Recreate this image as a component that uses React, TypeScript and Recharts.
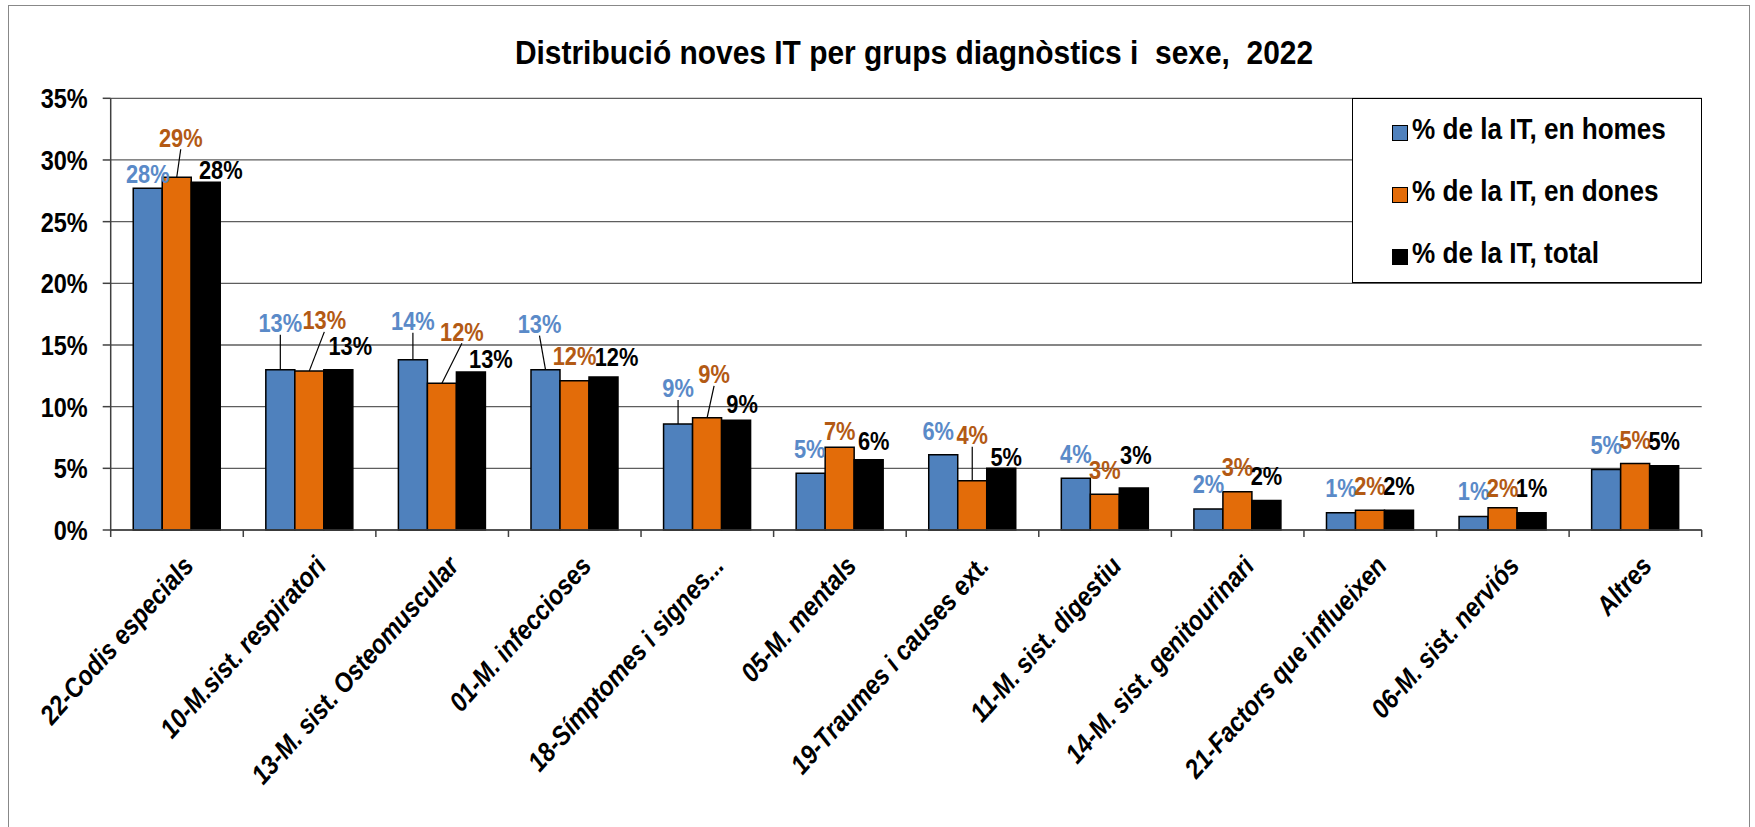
import { Bar, BarChart, CartesianGrid, LabelList, Legend, XAxis, YAxis } from "recharts";

const categories = [
  "22-Codis especials",
  "10-M.sist. respiratori",
  "13-M. sist. Osteomuscular",
  "01-M. infeccioses",
  "18-Símptomes i signes...",
  "05-M. mentals",
  "19-Traumes i causes ext.",
  "11-M. sist. digestiu",
  "14-M. sist. genitourinari",
  "21-Factors que influeixen",
  "06-M. sist. nerviós",
  "Altres",
];
const homes = [27.7, 13.0, 13.8, 13.0, 8.6, 4.6, 6.1, 4.2, 1.7, 1.4, 1.1, 4.9];
const dones = [28.6, 12.9, 11.9, 12.1, 9.1, 6.7, 4.0, 2.9, 3.1, 1.6, 1.8, 5.4];
const total = [28.2, 13.0, 12.8, 12.4, 8.9, 5.7, 5.0, 3.4, 2.4, 1.6, 1.4, 5.2];
const yTicks = [0, 5, 10, 15, 20, 25, 30, 35];

const seriesNames = ["% de la IT, en homes", "% de la IT, en dones", "% de la IT, total"];

// label nudges (dx, dy) copied from where Excel dragged them
const homesNudge = [[0, -1], [0, -33], [0, -25], [-6, -32], [0, -22], [-1, -11], [-5, -10], [0, -10], [0, -11], [0, -11], [0, -12], [0, -11]];
const donesNudge = [[4, -26], [15, -37], [20, -38], [0, -11], [7, -30], [0, -3], [0, -32], [0, -11], [0, -11], [0, -11], [0, -6], [0, -10]];
const totalNudge = [[15, 2], [12, -10], [20, 1], [13, -6], [6, -3], [5, -5], [5, 2], [2, -19], [0, -11], [0, -11], [0, -11], [0, -11]];

const rows = categories.map((name, i) => ({ name, homes: homes[i], dones: dones[i], total: total[i] }));

const PLOT_LEFT = 110.7;
const PLOT_RIGHT = 1701.7;
const PLOT_TOP = 98.3;
const PLOT_BOTTOM = 530;
const BAND = (PLOT_RIGHT - PLOT_LEFT) / categories.length;
const FONT = '"Liberation Sans", Arial, sans-serif';
const NARROW = 0.84;

const makeLabel = (color: string, nudges: number[][]) => (props: any) => {
  const { x, y, width, value, index } = props;
  const [dx, dy] = nudges[index] || [0, 0];
  const bx = Number(x) + Number(width) / 2;
  const cx = bx + dx;
  const cy = Number(y) - 14 + dy;
  return (
    <g>
      {dy <= -20 && <line x1={bx} y1={y} x2={cx} y2={cy + 12} stroke="#000" strokeWidth={1.2} />}
      <text
        transform={`translate(${cx},${cy + 9.3}) scale(${NARROW},1)`}
        textAnchor="middle"
        fontSize={26}
        fontWeight="bold"
        fontFamily={FONT}
        fill={color}
      >
        {Math.round(value)}%
      </text>
    </g>
  );
};

const XTick = (props: any) => {
  const { x, payload, index } = props;
  const half = BAND / 2;
  return (
    <g>
      <line x1={x - half} x2={x - half} y1={PLOT_BOTTOM} y2={PLOT_BOTTOM + 7} stroke="#404040" strokeWidth={1.5} />
      {index === categories.length - 1 && (
        <line x1={x + half} x2={x + half} y1={PLOT_BOTTOM} y2={PLOT_BOTTOM + 7} stroke="#404040" strokeWidth={1.5} />
      )}
      <text
        transform={`translate(${x + 18},${PLOT_BOTTOM + 37}) rotate(-48) scale(0.88,1)`}
        textAnchor="end"
        fontSize={27}
        fontWeight="bold"
        fontStyle="italic"
        fontFamily={FONT}
        fill="#000"
      >
        {payload.value}
      </text>
    </g>
  );
};

const YTick = (props: any) => {
  const { x, y, payload } = props;
  return (
    <text
      transform={`translate(${x},${y}) scale(${NARROW},1)`}
      textAnchor="end"
      dy="0.36em"
      fontSize={28}
      fontWeight="bold"
      fontFamily={FONT}
      fill="#000"
    >
      {payload.value}%
    </text>
  );
};

const legendColors = ["#4F81BD", "#E36C09", "#000000"];

const LegendBox = () => (
  <div
    style={{
      boxSizing: "border-box",
      width: PLOT_RIGHT - 1352,
      height: 185,
      border: "1px solid #000",
      background: "#fff",
      paddingTop: 14,
      paddingLeft: 39,
      fontFamily: FONT,
      fontWeight: "bold",
      fontSize: 29,
    }}
  >
    {seriesNames.map((n, i) => (
      <div key={n} style={{ height: 62, display: "flex", alignItems: "flex-start" }}>
        <span
          style={{
            display: "inline-block",
            width: 14,
            height: 14,
            marginTop: 12,
            marginRight: 4,
            background: legendColors[i],
            border: "1.5px solid #000",
          }}
        />
        <span style={{ display: "inline-block", transform: "scaleX(0.9)", transformOrigin: "left", whiteSpace: "pre" }}>
          {n}
        </span>
      </div>
    ))}
  </div>
);

export default function App() {
  return (
    <div style={{ position: "absolute", left: 0, top: 0, width: 1755, height: 827, background: "#fff", overflow: "hidden" }}>
      <div
        style={{
          position: "absolute",
          left: 8,
          top: 5,
          width: 1742,
          height: 900,
          border: "1.5px solid #888",
          boxSizing: "border-box",
        }}
      />
      <BarChart
        width={1755}
        height={827}
        data={rows}
        margin={{ top: PLOT_TOP, right: 1755 - PLOT_RIGHT, bottom: 827 - PLOT_BOTTOM - 60, left: PLOT_LEFT - 100 }}
        barCategoryGap="17%"
        barGap={0}
      >
        <CartesianGrid vertical={false} stroke="#5e5e5e" strokeWidth={1.3} yAxisId="l" />
        <XAxis
          dataKey="name"
          height={60}
          interval={0}
          tickLine={false}
          axisLine={{ stroke: "#404040", strokeWidth: 1.5 }}
          tick={<XTick />}
        />
        <YAxis
          yAxisId="l"
          width={100}
          domain={[0, 35]}
          ticks={yTicks}
          interval={0}
          tickSize={8}
          tickMargin={15}
          tickLine={{ stroke: "#404040", strokeWidth: 1.5 }}
          axisLine={{ stroke: "#404040", strokeWidth: 1.5 }}
          tick={<YTick />}
        />
        <YAxis
          yAxisId="r"
          orientation="right"
          width={0}
          domain={[0, 35]}
          tick={false}
          tickLine={false}
          axisLine={{ stroke: "#8c8c8c", strokeWidth: 1.5 }}
        />
        <Legend
          layout="horizontal"
          verticalAlign="middle"
          align="center"
          wrapperStyle={{ position: "absolute", left: 1352, top: PLOT_TOP, width: PLOT_RIGHT - 1352, height: 185 }}
          content={<LegendBox />}
        />
        <Bar yAxisId="l" dataKey="homes" name={seriesNames[0]} fill="#4F81BD" stroke="#000" strokeWidth={1.5} isAnimationActive={false}>
          <LabelList dataKey="homes" content={makeLabel("#5A8AC8", homesNudge)} />
        </Bar>
        <Bar yAxisId="l" dataKey="dones" name={seriesNames[1]} fill="#E36C09" stroke="#000" strokeWidth={1.5} isAnimationActive={false}>
          <LabelList dataKey="dones" content={makeLabel("#B35A14", donesNudge)} />
        </Bar>
        <Bar yAxisId="l" dataKey="total" name={seriesNames[2]} fill="#000000" stroke="#000" strokeWidth={1.5} isAnimationActive={false}>
          <LabelList dataKey="total" content={makeLabel("#000000", totalNudge)} />
        </Bar>
      </BarChart>
      <div
        style={{
          position: "absolute",
          left: 914 - 600,
          top: 32,
          width: 1200,
          textAlign: "center",
          fontFamily: FONT,
          fontWeight: "bold",
          fontSize: 34,
          lineHeight: "40px",
          whiteSpace: "pre",
          transform: "scaleX(0.88)",
        }}
      >
        Distribució noves IT per grups diagnòstics i  sexe,  2022
      </div>
    </div>
  );
}
